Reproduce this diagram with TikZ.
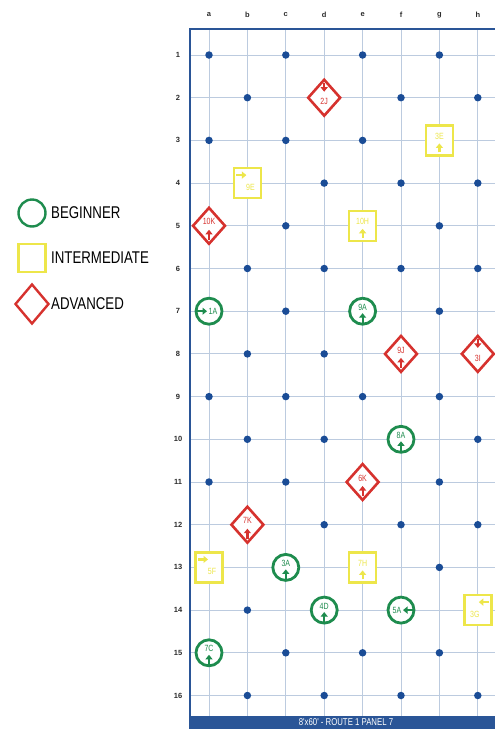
\documentclass[tikz,border=0pt]{standalone}
\usepackage{fontspec}
\setmainfont{Liberation Sans}
\newfontfamily\cond[FakeStretch=0.78]{Liberation Sans}
\usetikzlibrary{arrows.meta,shapes.geometric,calc}
\definecolor{cB}{HTML}{1E8C4E}
\definecolor{cI}{HTML}{EDE64A}
\definecolor{cA}{HTML}{D6322E}
\definecolor{dotc}{HTML}{1A4C96}
\definecolor{gridc}{HTML}{BCCBDF}
\definecolor{framec}{HTML}{2A5597}
\definecolor{axisc}{HTML}{2B2B2B}
\tikzset{
  kB/.style={circle,draw=cB,line width=2.8pt,minimum size=26pt,inner sep=0pt,fill=white},
  kI/.style={rectangle,draw=cI,line width=2.6pt,minimum width=27pt,minimum height=30pt,inner sep=0pt,fill=white},
  kA/.style={diamond,draw=cA,line width=2.6pt,minimum width=33pt,minimum height=37pt,inner sep=0pt,fill=white},
  hlabel/.style={font=\cond\fontsize{9}{10}\selectfont,inner sep=0pt},
  harrow/.style={line width=2.2pt,-{Triangle[length=4.5pt,width=7pt]}},
  dot/.style={circle,fill=dotc,minimum size=7.5pt,inner sep=0pt},
  gridline/.style={draw=gridc,line width=0.9pt},
  axis/.style={font=\bfseries\fontsize{7.5}{8}\selectfont,text=axisc,inner sep=0pt},
  legtext/.style={font=\cond\fontsize{17}{19}\selectfont,text=black,anchor=west,inner sep=0pt},
}
\newcommand\hold[7]{%
  \node[k#1] (#2) at (#3) {};
  \node[hlabel,text=c#1] (#2t) at ($(#2)+(#5)$) {#4};
  \draw[harrow,c#1] ($(#2)+(#6)$) -- ($(#2)+(#7)$);
}
\begin{document}
\begin{tikzpicture}[x=1pt,y=-1pt]
\useasboundingbox (0,0) rectangle (495,729);
\clip (0,0) rectangle (495,729);
% coordinates
\foreach \c [count=\i from 0] in {a,b,c,d,e,f,g,h}{
  \foreach \r in {1,...,16}{
    \coordinate (\c\r) at ({209+38.4*\i},{55+42.7*(\r-1)});
  }
}
% grid lines
\foreach \i in {0,...,7}{
  \draw[gridline] ({209+38.4*\i},29) -- ({209+38.4*\i},716);
}
\foreach \r in {1,...,16}{
  \draw[gridline] (190,{55+42.7*(\r-1)}) -- (495,{55+42.7*(\r-1)});
}
% frame
\draw[framec,line width=2.6pt] (190,716) -- (190,29) -- (496,29);
\fill[framec] (188.7,716) rectangle (496,730);
\node[font=\cond\fontsize{10}{11}\selectfont,text=white,inner sep=0pt] (banner) at (346,722.5) {8'x60' - ROUTE 1 PANEL 7};
% axis labels
\foreach \c [count=\i from 0] in {a,b,c,d,e,f,g,h}{
  \node[axis] (col\c) at ({209+38.4*\i},15) {\c};
}
\foreach \r in {1,...,16}{
  \node[axis] (row\r) at (178,{55+42.7*(\r-1)}) {\r};
}
% dots
\foreach \p in {a1,c1,e1,g1,b2,f2,h2,a3,c3,e3,d4,f4,h4,c5,g5,b6,d6,f6,h6,c7,g7,b8,d8,a9,c9,e9,g9,b10,d10,h10,a11,c11,g11,d12,f12,h12,g13,b14,c15,e15,g15,b16,d16,f16,h16}{
  \node[dot] (dot\p) at (\p) {};
}
% holds
\hold{A}{h2J}{d2}{2J}{0,4}{0,-15}{0,-6}
\hold{I}{h3E}{g3}{3E}{0,-4}{0,12}{0,3}
\hold{I}{h9E}{b4}{9E}{3,4}{-11,-8}{-1,-8}
\hold{A}{h10K}{a5}{10K}{0,-4}{0,14}{0,4}
\hold{I}{h10H}{e5}{10H}{0,-4}{0,12}{0,3}
\hold{B}{h1A}{a7}{1A}{4,0}{-12,0}{-2,0}
\hold{B}{h9A}{e7}{9A}{0,-4}{0,12}{0,2}
\hold{A}{h9J}{f8}{9J}{0,-4}{0,14}{0,4}
\hold{A}{h3I}{h8}{3I}{0,4}{0,-15}{0,-6}
\hold{B}{h8A}{f10}{8A}{0,-4}{0,12}{0,2}
\hold{A}{h6K}{e11}{6K}{0,-4}{0,14}{0,4}
\hold{A}{h7K}{b12}{7K}{0,-4}{0,14}{0,4}
\hold{I}{h5F}{a13}{5F}{3,4}{-11,-8}{-1,-8}
\hold{B}{h3A}{c13}{3A}{0,-4}{0,12}{0,2}
\hold{I}{h7H}{e13}{7H}{0,-4}{0,12}{0,3}
\hold{B}{h4D}{d14}{4D}{0,-4}{0,12}{0,2}
\hold{B}{h5A}{f14}{5A}{-4,0}{12,0}{2,0}
\hold{I}{h3G}{h14}{3G}{-3,4}{11,-8}{1,-8}
\hold{B}{h7C}{a15}{7C}{0,-4}{0,12}{0,2}
% legend
\node[circle,draw=cB,line width=2.4pt,minimum size=27pt,inner sep=0pt] (legB) at (32,213) {};
\node[legtext] (legBt) at (51,213) {BEGINNER};
\node[rectangle,draw=cI,line width=2.4pt,minimum width=27pt,minimum height=28pt,inner sep=0pt] (legI) at (32,258) {};
\node[legtext] (legIt) at (51,258) {INTERMEDIATE};
\node[diamond,draw=cA,line width=2.4pt,minimum width=34pt,minimum height=40pt,inner sep=0pt] (legA) at (32,304) {};
\node[legtext] (legAt) at (51,304) {ADVANCED};
\end{tikzpicture}
\end{document}
